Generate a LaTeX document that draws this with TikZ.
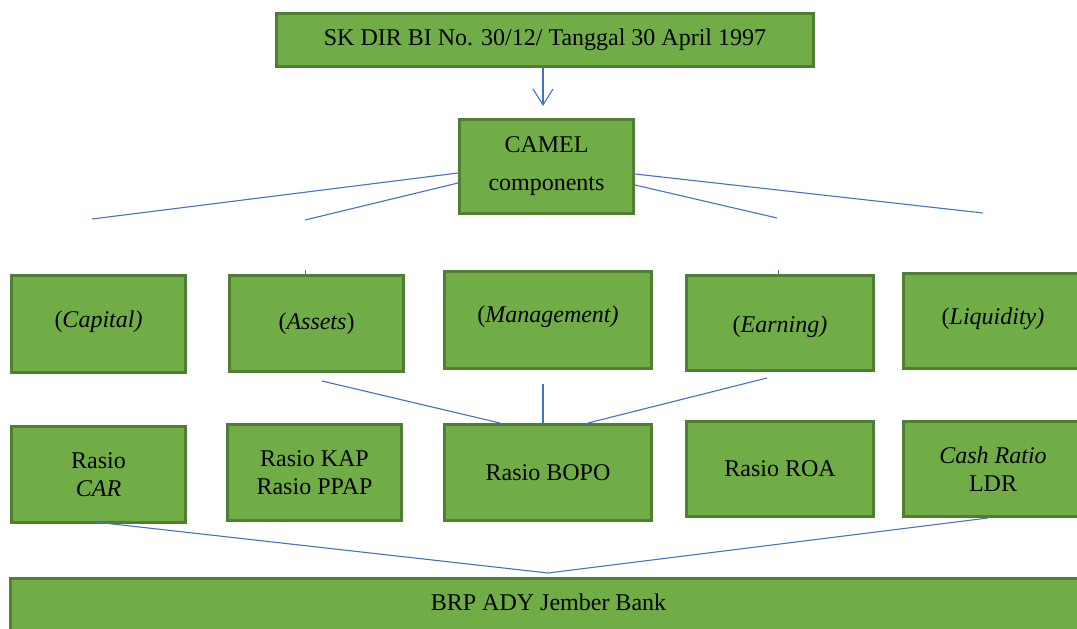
\documentclass[tikz,border=0pt]{standalone}
\usepackage{fontspec}
\setmainfont{Liberation Serif}
\usetikzlibrary{arrows.meta}
\definecolor{boxfill}{HTML}{70AD47}
\definecolor{boxline}{HTML}{507E32}
\definecolor{linkblue}{HTML}{4472C4}
\newcommand{\shiftup}[2]{\raisebox{#1}[\height][\depth]{#2}}
\begin{document}
\begin{tikzpicture}[x=1pt,y=-1pt,
  box/.style={draw=boxline, line width=3pt, fill=boxfill, inner sep=0pt, align=center,
    font=\fontsize{24}{28}\selectfont},
  link/.style={draw=linkblue, line width=1.1pt}]
\useasboundingbox (0,0) rectangle (1077,629);
\clip (0,0) rectangle (1077,629);

% top
\node[box, minimum width=537pt, minimum height=53pt] (top) at (545,40) {SK DIR BI No. 30/12/ Tanggal 30 April 1997};
\node[box, minimum width=174pt, minimum height=94pt, font=\fontsize{24}{38}\selectfont] (camel) at (546.5,166.5) {CAMEL\\components};

% row 2
\node[box, minimum width=174pt, minimum height=97pt] (cap) at (98.5,324) {\shiftup{2pt}{(\textit{Capital)}}};
\node[box, minimum width=174pt, minimum height=96pt] (ass) at (316.5,323.5) {(\textit{Assets})};
\node[box, minimum width=207pt, minimum height=97pt] (man) at (548,320) {\shiftup{3pt}{(\textit{Management)}}};
\node[box, minimum width=187pt, minimum height=95pt] (ear) at (780,323) {\shiftup{-4pt}{(\textit{Earning)}}};
\node[box, minimum width=180pt, minimum height=95pt] (liq) at (993,321) {\shiftup{2pt}{(\textit{Liquidity)}}};

% row 3
\node[box, minimum width=174pt, minimum height=96pt] (car) at (98.5,474.5) {Rasio\\\textit{CAR}};
\node[box, minimum width=174pt, minimum height=96pt] (kap) at (314.5,472.5) {Rasio KAP\\Rasio PPAP};
\node[box, minimum width=207pt, minimum height=96pt] (bopo) at (548,472.5) {Rasio BOPO};
\node[box, minimum width=187pt, minimum height=95pt] (roa) at (780,469) {Rasio ROA};
\node[box, minimum width=180pt, minimum height=95pt] (cash) at (993,469) {\textit{Cash Ratio}\\LDR};

% bottom
\node[box, minimum width=1077pt, minimum height=62pt] (bank) at (548.5,609) {\shiftup{7pt}{BRP ADY Jember Bank}};

% arrow
\draw[link, -{Straight Barb[length=16pt,width=20pt]}] ([xshift=-2pt]top.south) -- ([xshift=-3.5pt,yshift=12pt]camel.north);

% fan out from CAMEL
\coordinate (l1) at (92,219);
\coordinate (l2) at (305,220);
\coordinate (r2) at (777,218);
\coordinate (r1) at (983,213);
\draw[link] ([yshift=-6.5pt]camel.west) -- (l1);
\draw[link] ([yshift=-16.5pt]camel.west) -- (l2);
\draw[link] ([yshift=-7.5pt]camel.east) -- (r1);
\draw[link] ([yshift=-18.5pt]camel.east) -- (r2);

% stubs
\draw[link, line width=0.8pt] ([xshift=-11.5pt]ass.north) -- ++(0,-4);
\draw[link, line width=0.8pt] ([xshift=-2pt]ear.north) -- ++(0,-4);

% into BOPO
\coordinate (m1) at (322,381);
\coordinate (m2) at (543,384);
\coordinate (m3) at (767,378);
\draw[link] (m1) -- ([xshift=-48pt]bopo.north);
\draw[link] (m2) -- ([xshift=-5pt]bopo.north);
\draw[link] (m3) -- ([xshift=40pt]bopo.north);

% into bank
\coordinate (v) at (548,573);
\draw[link] ([xshift=-3.5pt,yshift=2pt]car.south) -- (v) -- ([xshift=-5pt]cash.south);
\end{tikzpicture}
\end{document}
